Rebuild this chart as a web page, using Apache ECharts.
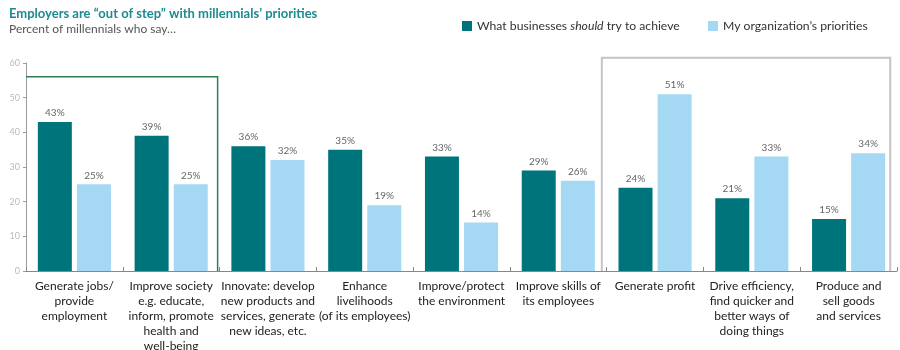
<!DOCTYPE html>
<html>
<head>
<meta charset="utf-8">
<script src="https://cdn.jsdelivr.net/npm/echarts@6/dist/echarts.min.js"></script>
<style>
html,body{margin:0;padding:0;background:#fff;}
#c{width:900px;height:350px;}
</style>
</head>
<body>
<div id="c"></div>
<script>
var categories = [
  "Generate jobs/\nprovide\nemployment",
  "Improve society\ne.g. educate,\ninform, promote\nhealth and\nwell-being",
  "Innovate: develop\nnew products and\nservices, generate\nnew ideas, etc.",
  "Enhance\nlivelihoods\n(of its employees)",
  "Improve/protect\nthe environment",
  "Improve skills of\nits employees",
  "Generate profit",
  "Drive efficiency,\nfind quicker and\nbetter ways of\ndoing things",
  "Produce and\nsell goods\nand services"
];
var shouldValues = [43, 39, 36, 35, 33, 29, 24, 21, 15];
var orgValues = [25, 25, 32, 19, 14, 26, 51, 33, 34];
var yTicks = [0, 10, 20, 30, 40, 50, 60];
var seriesNames = ['What businesses should try to achieve', 'My organization\u2019s priorities'];

var DARK = '#00747B';
var LIGHT = '#A5D8F3';
var FONT = 'Lato';

var chart = echarts.init(document.getElementById('c'), null, {renderer: 'canvas'});

var labelCfg = {
  show: true, position: 'top', distance: 4,
  color: '#666', fontSize: 10, fontFamily: FONT,
  formatter: function (p) { return p.value + '%'; }
};

var LFS = 12.2;
var legendText = {
  color: '#333', fontSize: LFS, fontFamily: FONT,
  rich: {
    n: {fontSize: LFS, fontFamily: FONT, color: '#333'},
    i: {fontSize: LFS, fontFamily: FONT, color: '#333', fontStyle: 'italic'}
  }
};

chart.setOption({
  animation: false,
  backgroundColor: '#fff',
  title: {
    text: 'Employers are \u201cout of step\u201d with millennials\u2019 priorities',
    subtext: 'Percent of millennials who say\u2026',
    left: 4, top: 2, itemGap: 3,
    textStyle: {color: '#1B8B92', fontSize: 13, fontWeight: 'bold', fontFamily: FONT},
    subtextStyle: {color: '#555', fontSize: 12, fontFamily: FONT}
  },
  legend: [
    {
      left: 457, top: 15, itemWidth: 10, itemHeight: 10, icon: 'rect',
      textStyle: legendText,
      formatter: function () { return '{n|What businesses }{i|should}{n| try to achieve}'; },
      data: [seriesNames[0]]
    },
    {
      left: 703, top: 15, itemWidth: 10, itemHeight: 10, icon: 'rect',
      textStyle: legendText,
      data: [seriesNames[1]]
    }
  ],
  grid: {left: 26, right: 3, top: 63, bottom: 79, outerBoundsMode: 'none', containLabel: false},
  xAxis: {
    type: 'category',
    data: categories,
    axisLine: {lineStyle: {color: '#888', width: 1}},
    axisTick: {show: true, inside: true, length: 4, lineStyle: {color: '#888'}},
    axisLabel: {
      interval: 0, color: '#222', fontSize: 12, fontFamily: FONT,
      lineHeight: 15, margin: 8
    }
  },
  yAxis: {
    type: 'value', min: 0, max: 60, interval: 10,
    splitLine: {show: false},
    axisLine: {show: true, lineStyle: {color: '#999'}},
    axisTick: {show: true, length: 3, lineStyle: {color: '#999'}},
    axisLabel: {
      color: '#bbb', fontSize: 9, fontFamily: FONT, margin: 6,
      formatter: function (v) { return yTicks.indexOf(v) >= 0 ? String(v) : ''; }
    }
  },
  series: [
    {
      name: seriesNames[0], type: 'bar',
      data: shouldValues, barWidth: 34, barGap: '15%',
      itemStyle: {color: DARK}, label: labelCfg
    },
    {
      name: seriesNames[1], type: 'bar',
      data: orgValues, barWidth: 34, barGap: '15%',
      itemStyle: {color: LIGHT}, label: labelCfg
    }
  ]
});

function drawBoxes() {
  var c0 = chart.convertToPixel({xAxisIndex: 0}, 0);
  var c1 = chart.convertToPixel({xAxisIndex: 0}, 1);
  var band = c1 - c0;
  var y0 = chart.convertToPixel({yAxisIndex: 0}, 0);
  var yG = chart.convertToPixel({yAxisIndex: 0}, 56);
  var yP = chart.convertToPixel({yAxisIndex: 0}, 61.5);
  var gL = c0 - band * 0.5;
  var gR = chart.convertToPixel({xAxisIndex: 0}, 1) + band * 0.48;
  var pL = chart.convertToPixel({xAxisIndex: 0}, 6) - band * 0.55;
  var pR = chart.convertToPixel({xAxisIndex: 0}, 8) + band * 0.43;
  chart.setOption({
    graphic: [
      {
        type: 'polyline', silent: true, z: 5,
        shape: {points: [[gL, yG], [gR, yG], [gR, y0]]},
        style: {stroke: '#2F7D52', lineWidth: 1.5, fill: null}
      },
      {
        type: 'polyline', silent: true, z: 5,
        shape: {points: [[pL, y0], [pL, yP], [pR, yP], [pR, y0]]},
        style: {stroke: '#C4C4C4', lineWidth: 2, fill: null}
      }
    ]
  });
}
drawBoxes();
</script>
</body>
</html>
